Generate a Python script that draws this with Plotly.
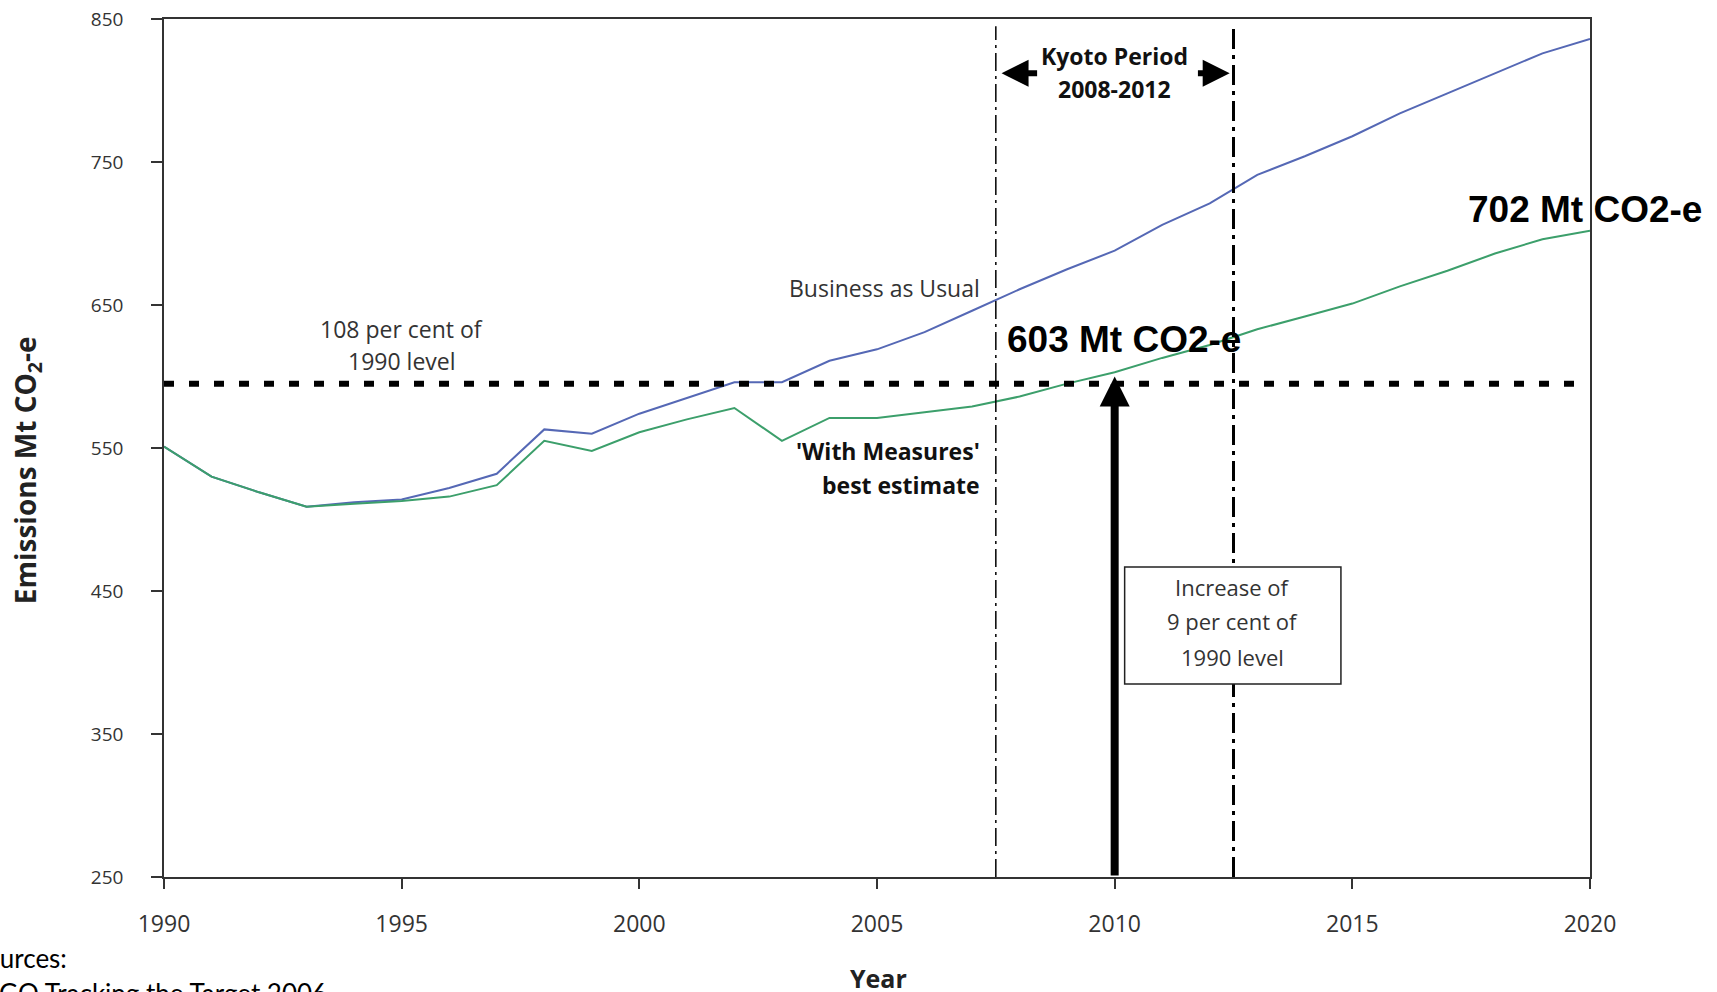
import plotly.graph_objects as go

# ---------------- data ----------------
years = list(range(1990, 2021))
bau = [551, 530, 519, 509, 512, 514, 522, 532, 563, 560,
       574, 585, 596, 596, 611, 619, 631, 646, 661, 675,
       688, 706, 721, 741, 754, 768, 784, 798, 812, 826, 836]
with_measures = [551, 530, 519, 509, 511, 513, 516, 524, 555, 548,
                 561, 570, 578, 555, 571, 571, 575, 579, 586, 595,
                 603, 613, 622, 633, 642, 651, 663, 674, 686, 696, 702]
x_ticks = [1990, 1995, 2000, 2005, 2010, 2015, 2020]
y_ticks = [250, 350, 450, 550, 650, 750, 850]
target_level = 595          # 108 per cent of 1990 level
target_end = 2019.7
kyoto_start, kyoto_end = 2007.5, 2012.5
arrow_year, arrow_top = 2010, 600
label_2010 = "603 Mt CO2-e"
label_2020 = "702 Mt CO2-e"

W, H = 1717, 992
PL, PR, PT, PB = 164, 1590, 18.6, 877


def px(x):
    return (x - PL) / (PR - PL)


def py(y):
    return (PB - y) / (PB - PT)


LIGHT = "Open Sans, Lato, sans-serif"
BOLDF = "Open Sans, Lato, sans-serif"
ARIAL = "Liberation Sans, Arial, sans-serif"
TXT = "#333333"

fig = go.Figure()
fig.add_trace(go.Scatter(x=years, y=bau, mode="lines", name="Business as Usual",
                         line=dict(color="#5568b5", width=2)))
fig.add_trace(go.Scatter(x=years, y=with_measures, mode="lines", name="With Measures",
                         line=dict(color="#3c9f6b", width=2)))

shapes = [
    dict(type="line", xref="x", yref="y", x0=kyoto_start, x1=kyoto_start, y0=250, y1=845,
         line=dict(color="black", width=1.5, dash="18px,5px,3px,5px")),
    dict(type="line", xref="x", yref="y", x0=kyoto_end, x1=kyoto_end, y0=250, y1=845,
         line=dict(color="black", width=3, dash="20px,6px,4px,6px")),
    dict(type="line", xref="x", yref="y", x0=1990, x1=target_end, y0=target_level, y1=target_level,
         line=dict(color="black", width=6, dash="10px,15px")),
    dict(type="rect", xref="x", yref="y", x0=2010.21, x1=2014.76, y0=385, y1=466.7,
         line=dict(color="#222", width=1.5), fillcolor="white"),
]

ann = []


def text(x, y, s, size, bold=False, anchor="center", font=None, xref="x", yref="y", color=TXT, angle=0):
    ann.append(dict(x=x, y=y, xref=xref, yref=yref, text=("<b>%s</b>" % s) if bold else s,
                    showarrow=False, xanchor=anchor, yanchor="middle", textangle=angle,
                    font=dict(size=size, family=font or (BOLDF if bold else LIGHT), color=color)))


text(1995.0, 633.5, "108 per cent of", 23)
text(1995.0, 610.5, "1990 level", 23)
text(2007.2, 661.6, "Business as Usual", 23, anchor="right")
text(2007.2, 547.8, "'With Measures'", 23, bold=True, anchor="right", color="#111")
text(2007.2, 524.0, "best estimate", 23, bold=True, anchor="right", color="#111")
text(2010.0, 824.0, "Kyoto Period", 23, bold=True, color="#111")
text(2010.0, 801.0, "2008-2012", 23, bold=True, color="#111")
text(2012.47, 453.0, "Increase of", 22)
text(2012.47, 429.0, "9 per cent of", 22)
text(2012.47, 403.8, "1990 level", 22)
text(2010.2, 626.0, label_2010, 37, bold=True, font=ARIAL, color="black")
text(2019.9, 717.0, label_2020, 37, bold=True, font=ARIAL, color="black")
text(px(27), py(470), "Emissions Mt CO<sub>2</sub>-e", 28, bold=True, xref="paper", yref="paper",
     color="#222", angle=-90)
text(px(878), py(978), "Year", 25, bold=True, xref="paper", yref="paper", color="#222")
text(px(-31), py(958), "Sources:", 26, anchor="left", font="Lato, sans-serif",
     xref="paper", yref="paper", color="black")
text(px(-20), py(993), "AGO Tracking the Target 2006", 26, anchor="left", font="Lato, sans-serif",
     xref="paper", yref="paper", color="black")

# arrows
ann.append(dict(x=arrow_year, y=arrow_top, ax=arrow_year, ay=250, xref="x", yref="y",
                axref="x", ayref="y", text="", showarrow=True, arrowhead=2, arrowsize=0.75,
                arrowwidth=8, arrowcolor="black", standoff=0, startstandoff=0))
ann.append(dict(x=2007.62, y=812, ax=2008.4, ay=812, xref="x", yref="y",
                axref="x", ayref="y", text="", showarrow=True, arrowhead=2, arrowsize=0.9,
                arrowwidth=6, arrowcolor="black", standoff=0))
ann.append(dict(x=2012.42, y=812, ax=2011.72, ay=812, xref="x", yref="y",
                axref="x", ayref="y", text="", showarrow=True, arrowhead=2, arrowsize=0.9,
                arrowwidth=6, arrowcolor="black", standoff=0))

fig.update_layout(
    width=W, height=H,
    margin=dict(l=PL, r=W - PR, t=PT, b=H - PB, pad=0),
    paper_bgcolor="white", plot_bgcolor="white",
    showlegend=False,
    shapes=shapes, annotations=ann,
    font=dict(family=LIGHT, color=TXT),
)
fig.update_xaxes(range=[1990, 2020], tickvals=x_ticks, ticks="outside", ticklen=10, tickwidth=1.5,
                 tickcolor="#333", showline=True, linecolor="#333", linewidth=1.5, mirror=True,
                 showgrid=False, zeroline=False, tickfont=dict(size=23, family=LIGHT, color=TXT),
                 ticklabelstandoff=16, automargin=False)
fig.update_yaxes(range=[250, 850], tickvals=y_ticks, ticks="outside", ticklen=11, tickwidth=1.5,
                 tickcolor="#333", showline=True, linecolor="#333", linewidth=1.5, mirror=True,
                 showgrid=False, zeroline=False, tickfont=dict(size=19, family=LIGHT, color=TXT),
                 ticklabelstandoff=24, automargin=False)

fig.write_html("out.html", config={"displayModeBar": False},
               post_script="document.body.style.margin='0';document.body.style.overflow='hidden';")
